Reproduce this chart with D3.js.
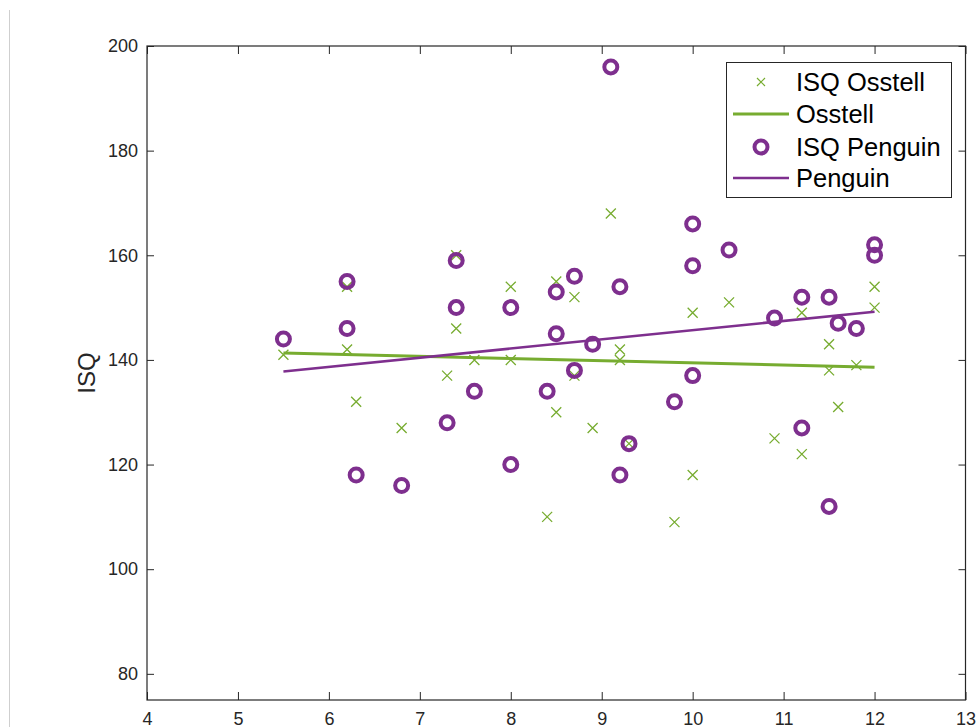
<!DOCTYPE html>
<html>
<head>
<meta charset="utf-8">
<script src="https://cdn.jsdelivr.net/npm/d3@7/dist/d3.min.js"></script>
<style>
  body { margin: 0; background: #fff; }
  svg { display: block; font-family: "Liberation Sans", Arial, sans-serif; }
</style>
</head>
<body>
<div id="chart"></div>
<script>
// ISQ Osstell measurements
const osstellX = [5.5, 6.2, 6.2, 6.3, 6.8, 7.3, 7.4, 7.4, 7.6, 8.0, 8.0, 8.4, 8.5, 8.5, 8.7, 8.7, 8.9,
                  9.1, 9.2, 9.2, 9.3, 9.8, 10.0, 10.0, 10.4, 10.9, 11.2, 11.2, 11.5, 11.5, 11.6, 11.8, 12.0, 12.0];
const osstellY = [141, 154, 142, 132, 127, 137, 160, 146, 140, 154, 140, 110, 155, 130, 152, 137, 127,
                  168, 142, 140, 124, 109, 149, 118, 151, 125, 149, 122, 143, 138, 131, 139, 154, 150];

// ISQ Penguin measurements
const penguinX = [5.5, 6.2, 6.2, 6.3, 6.8, 7.3, 7.4, 7.4, 7.6, 8.0, 8.0, 8.4, 8.5, 8.5, 8.7, 8.7, 8.9,
                  9.1, 9.2, 9.2, 9.3, 9.8, 10.0, 10.0, 10.0, 10.4, 10.9, 11.2, 11.2, 11.5, 11.5, 11.6, 11.8, 12.0, 12.0];
const penguinY = [144, 155, 146, 118, 116, 128, 159, 150, 134, 150, 120, 134, 153, 145, 156, 138, 143,
                  196, 154, 118, 124, 132, 166, 158, 137, 161, 148, 152, 127, 152, 112, 147, 146, 162, 160];

// fitted lines (end points)
const fitX = [5.5, 12];
const osstellFit = [141.3, 138.6];
const penguinFit = [137.8, 149.2];

const xTicks = [4, 5, 6, 7, 8, 9, 10, 11, 12, 13];
const yTicks = [80, 100, 120, 140, 160, 180, 200];

const green = '#77ac30';
const purple = '#7e2f8e';
const axisColor = '#262626';

const width = 976, height = 727;
const margin = { top: 46, left: 147, right: 10, bottom: 27 };

const svg = d3.select('#chart').append('svg')
    .attr('width', width)
    .attr('height', height);

// faint window edge on the left
svg.append('line')
    .attr('x1', 9.5).attr('x2', 9.5)
    .attr('y1', 10).attr('y2', height)
    .attr('stroke', '#cfcfcf');

const x = d3.scaleLinear().domain([4, 13]).range([margin.left, width - margin.right - 0.5]);
const y = d3.scaleLinear().domain([75, 200]).range([height - margin.bottom, margin.top]);

const plot = svg.append('g');

// Osstell crosses
const cross = 5;
plot.append('g').selectAll('path')
    .data(d3.range(osstellX.length))
    .enter().append('path')
    .attr('d', function(i) {
      const cx = x(osstellX[i]), cy = y(osstellY[i]);
      return 'M' + (cx - cross) + ',' + (cy - cross) + 'L' + (cx + cross) + ',' + (cy + cross)
           + 'M' + (cx - cross) + ',' + (cy + cross) + 'L' + (cx + cross) + ',' + (cy - cross);
    })
    .attr('stroke', green)
    .attr('stroke-width', 1.3)
    .attr('fill', 'none');

const line = d3.line()
    .x(function(d) { return x(d[0]); })
    .y(function(d) { return y(d[1]); });

plot.append('path')
    .attr('d', line(d3.zip(fitX, osstellFit)))
    .attr('stroke', green)
    .attr('stroke-width', 3)
    .attr('fill', 'none');

// Penguin circles
plot.append('g').selectAll('circle')
    .data(d3.range(penguinX.length))
    .enter().append('circle')
    .attr('cx', function(i) { return x(penguinX[i]); })
    .attr('cy', function(i) { return y(penguinY[i]); })
    .attr('r', 6.5)
    .attr('fill', 'none')
    .attr('stroke', purple)
    .attr('stroke-width', 4);

plot.append('path')
    .attr('d', line(d3.zip(fitX, penguinFit)))
    .attr('stroke', purple)
    .attr('stroke-width', 2.6)
    .attr('fill', 'none');

// axes, ticks pointing inward
function styleAxis(g) {
  g.select('.domain').remove();
  g.selectAll('line').attr('stroke', axisColor);
  g.selectAll('text').attr('fill', axisColor).style('font-size', '18px');
}

const yBottom = y.range()[0], yTop = y.range()[1];
const xLeft = x.range()[0], xRight = x.range()[1];

svg.append('g')
    .attr('transform', 'translate(0,' + yBottom + ')')
    .call(d3.axisBottom(x).tickValues(xTicks).tickSize(-8).tickPadding(12).tickFormat(d3.format('d')))
    .call(styleAxis);

svg.append('g')
    .attr('transform', 'translate(0,' + yTop + ')')
    .call(d3.axisTop(x).tickValues(xTicks).tickSize(-8).tickFormat(''))
    .call(styleAxis);

svg.append('g')
    .attr('transform', 'translate(' + xLeft + ',0)')
    .call(d3.axisLeft(y).tickValues(yTicks).tickSize(-7).tickPadding(9).tickFormat(d3.format('d')))
    .call(styleAxis);

svg.append('g')
    .attr('transform', 'translate(' + xRight + ',0)')
    .call(d3.axisRight(y).tickValues(yTicks).tickSize(-7).tickFormat(''))
    .call(styleAxis);

svg.append('rect')
    .attr('x', xLeft).attr('y', yTop)
    .attr('width', xRight - xLeft).attr('height', yBottom - yTop)
    .attr('fill', 'none')
    .attr('stroke', axisColor)
    .attr('stroke-width', 1.2);

svg.append('text')
    .attr('transform', 'translate(95,' + ((yTop + yBottom) / 2) + ') rotate(-90)')
    .attr('text-anchor', 'middle')
    .attr('fill', axisColor)
    .style('font-size', '24px')
    .text('ISQ');

// legend
const legend = svg.append('g').attr('transform', 'translate(726,62)');
legend.append('rect')
    .attr('x', 0.5).attr('y', 0.5)
    .attr('width', 225).attr('height', 135)
    .attr('fill', '#fff')
    .attr('stroke', axisColor)
    .attr('stroke-width', 1);

const legendItems = [
  { label: 'ISQ Osstell', kind: 'cross', color: green },
  { label: 'Osstell', kind: 'line', color: green, w: 3 },
  { label: 'ISQ Penguin', kind: 'circle', color: purple },
  { label: 'Penguin', kind: 'line', color: purple, w: 2.6 }
];
const rowY = [20, 52, 85, 116];

legendItems.forEach(function(item, i) {
  const g = legend.append('g').attr('transform', 'translate(0,' + rowY[i] + ')');
  if (item.kind === 'cross') {
    g.append('path')
        .attr('d', 'M31,-4L39,4M31,4L39,-4')
        .attr('stroke', item.color).attr('stroke-width', 1.2);
  } else if (item.kind === 'circle') {
    g.append('circle')
        .attr('cx', 35).attr('cy', 0).attr('r', 6.5)
        .attr('fill', 'none').attr('stroke', item.color).attr('stroke-width', 4);
  } else {
    g.append('line')
        .attr('x1', 7).attr('x2', 63).attr('y1', 0).attr('y2', 0)
        .attr('stroke', item.color).attr('stroke-width', item.w);
  }
  g.append('text')
      .attr('x', 70)
      .attr('dy', '0.36em')
      .attr('fill', '#000')
      .style('font-size', '25.5px')
      .text(item.label);
});
</script>
</body>
</html>
